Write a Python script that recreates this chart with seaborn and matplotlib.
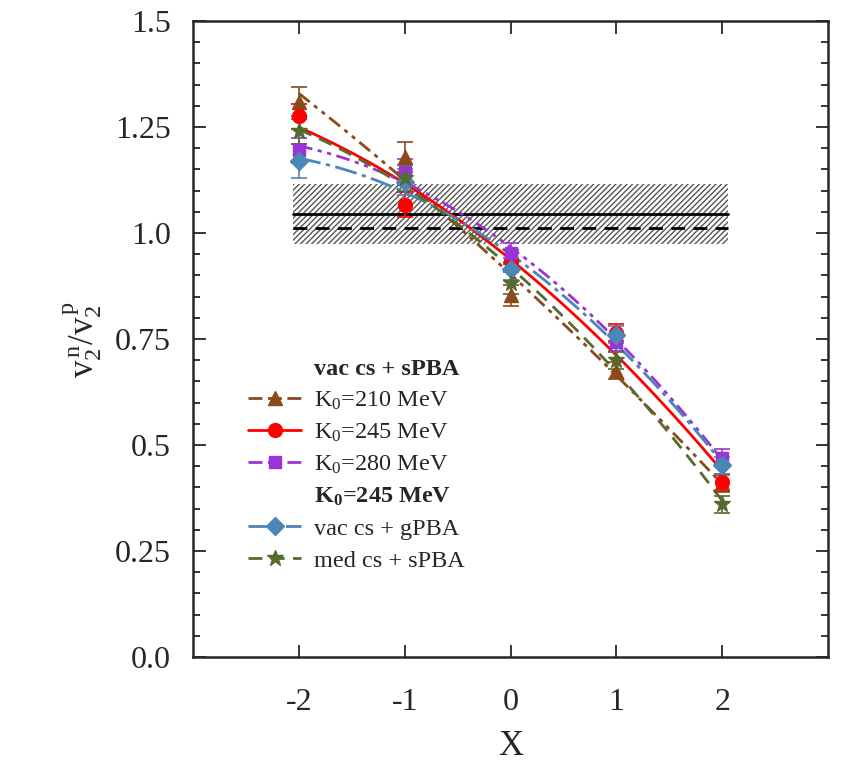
import numpy as np
import pandas as pd
import seaborn as sns
import matplotlib
matplotlib.use("Agg")
import matplotlib.pyplot as plt
from matplotlib.lines import Line2D
from matplotlib.ticker import MultipleLocator

# ---------------- data ----------------
x_vals = [-2, -1, 0, 1, 2]
k210 = [1.31, 1.18, 0.853, 0.675, 0.41]
k210_err = [0.035, 0.035, 0.025, 0.02, 0.02]
k245 = [1.275, 1.067, 0.935, 0.765, 0.412]
k245_err = [0.03, 0.03, 0.025, 0.02, 0.02]
k280 = [1.195, 1.145, 0.952, 0.742, 0.47]
k280_err = [0.03, 0.03, 0.025, 0.02, 0.02]
gpba = [1.17, 1.12, 0.915, 0.76, 0.452]
gpba_err = [0.04, 0.03, 0.025, 0.02, 0.02]
med = [1.24, 1.13, 0.882, 0.70, 0.36]
med_err = [0.03, 0.03, 0.025, 0.02, 0.02]

band_lo, band_hi = 0.973, 1.115
band_x = [-2.05, 2.05]
solid_ref = 1.044
dashed_ref = 1.013

x_ticklabels = ["-2", "-1", "0", "1", "2"]
y_ticks = [0, 0.25, 0.5, 0.75, 1.0, 1.25, 1.5]
y_ticklabels = ["0.0", "0.25", "0.5", "0.75", "1.0", "1.25", "1.5"]

labels = ["K$_0$=210 MeV", "K$_0$=245 MeV", "K$_0$=280 MeV",
          "vac cs + gPBA", "med cs + sPBA"]
header1 = "vac cs + sPBA"
header2 = "K$_\\mathbf{0}$=245 MeV"

# ---------------- style ----------------
sns.set_theme(style="ticks")
plt.rcParams['font.family'] = ['Liberation Serif', 'DejaVu Serif']
plt.rcParams['mathtext.fontset'] = 'custom'
plt.rcParams['mathtext.rm'] = 'Liberation Serif'
plt.rcParams['mathtext.it'] = 'Liberation Serif:italic'
plt.rcParams['mathtext.bf'] = 'Liberation Serif:bold'
plt.rcParams['axes.unicode_minus'] = False

fig = plt.figure(figsize=(8.46, 7.64), dpi=100)
ax = fig.add_axes([0.228, 0.140, 0.751, 0.8325])

series = [
    (k210, k210_err, "#8b4a1c", (0, (5, 2, 1.5, 2, 1.5, 2)), "^", 10),
    (k245, k245_err, "#ff0000", "-", "o", 10),
    (k280, k280_err, "#9b34d6", (0, (5, 2, 1.5, 2, 1.5, 2)), "s", 9),
    (gpba, gpba_err, "#4a86b8", (0, (8, 2, 1.5, 2)), "D", 9),
    (med, med_err, "#556b2f", (0, (5, 3)), "*", 12),
]

# hatched band
ax.fill_between(band_x, [band_lo, band_lo], [band_hi, band_hi],
                facecolor="white", edgecolor="#555555", hatch="//////",
                linewidth=0, zorder=1)
ax.plot(band_x, [solid_ref, solid_ref], color="black", lw=2, zorder=2)
ax.plot(band_x, [dashed_ref, dashed_ref], color="black", lw=2,
        ls=(0, (5, 3)), zorder=2)

xs = np.array(x_vals, dtype=float)
xfine = np.linspace(min(x_vals), max(x_vals), 100)
handles = []
for (vals, err, col, ls, mk, ms), lab in zip(series, labels):
    coef = np.polyfit(xs, vals, 2)
    fit = pd.DataFrame({"x": xfine, "y": np.polyval(coef, xfine)})
    sns.lineplot(data=fit, x="x", y="y", ax=ax, color=col, lw=2,
                 linestyle=ls, zorder=3)
    ax.errorbar(x_vals, vals, yerr=err, fmt=mk, color=col, ms=ms,
                capsize=6, elinewidth=1.2, capthick=1.2, zorder=4)
    handles.append(Line2D([], [], color=col, lw=2, linestyle=ls,
                          marker=mk, ms=ms))

blank = Line2D([], [], color="none")
leg_handles = [blank] + handles[:3] + [blank] + handles[3:]
leg_labels = [header1] + labels[:3] + [header2] + labels[3:]
leg = ax.legend(leg_handles, leg_labels, loc="upper left",
                bbox_to_anchor=(0.06, 0.497), frameon=False, fontsize=17.5,
                handlelength=2.2, labelspacing=0.4, handletextpad=0.5,
                borderpad=0.2)
for i in (0, 4):
    leg.get_texts()[i].set_fontweight("bold")

ax.set_xlim(-3, 3)
ax.set_ylim(0, 1.5)
ax.set_xticks(x_vals)
ax.set_xticklabels(x_ticklabels)
ax.set_yticks(y_ticks)
ax.set_yticklabels(y_ticklabels)
ax.yaxis.set_minor_locator(MultipleLocator(0.05))
ax.tick_params(which="both", direction="in", top=True, right=True,
               labelsize=23, width=1.3)
ax.tick_params(which="major", length=9)
ax.tick_params(axis="y", which="major", pad=16)
ax.tick_params(axis="x", which="major", pad=22)
ax.tick_params(axis="x", which="minor", bottom=False, top=False)
ax.tick_params(which="minor", length=5)
for s in ax.spines.values():
    s.set_linewidth(1.8)

ax.set_xlabel("X", fontsize=25, labelpad=10)
ax.set_ylabel(r"v$_2^{\,\mathrm{n}}$/v$_2^{\,\mathrm{p}}$", fontsize=25,
              labelpad=8)

fig.savefig("out.png", dpi=100)
